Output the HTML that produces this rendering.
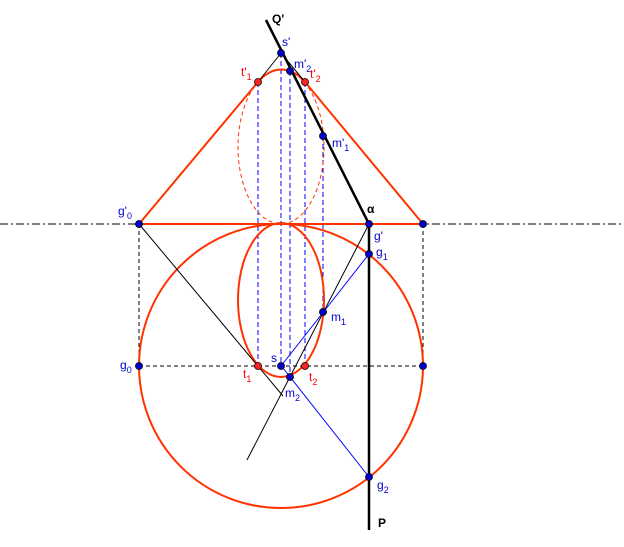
<!DOCTYPE html>
<html><head><style>body{margin:0;background:#fff}svg{display:block}text{font-family:"Liberation Sans",sans-serif;font-size:12px}</style></head><body>
<svg width="624" height="547" viewBox="0 0 624 547" xmlns="http://www.w3.org/2000/svg">
<line x1="0" y1="224" x2="624" y2="224" stroke="#000" stroke-width="1" stroke-dasharray="8,3,2,3"/>
<g stroke="#000" stroke-width="1" stroke-dasharray="4,3" fill="none">
<line x1="139" y1="224" x2="139" y2="366"/><line x1="423" y1="224" x2="423" y2="366"/>
<line x1="139" y1="366" x2="423" y2="366"/>
</g>
<g stroke="#0000ff" stroke-width="1" stroke-dasharray="5,3" fill="none">
<line x1="258" y1="82" x2="258" y2="366"/><line x1="281" y1="53" x2="281" y2="366"/>
<line x1="290" y1="71" x2="290" y2="377"/><line x1="305" y1="82" x2="305" y2="366"/>
<line x1="323" y1="136" x2="323" y2="312"/>
</g>
<ellipse cx="281" cy="147" rx="43" ry="77" fill="none" stroke="#ff3300" stroke-width="1" stroke-dasharray="4,3"/>
<circle cx="281" cy="366" r="142" fill="none" stroke="#ff3300" stroke-width="2"/>
<ellipse cx="281" cy="300" rx="43" ry="77" fill="none" stroke="#ff3300" stroke-width="2"/>
<path d="M139 224 L258 82 A43 77 0 0 1 305 82 L423 224 Z" fill="none" stroke="#ff3300" stroke-width="2"/>
<g stroke="#000" stroke-width="1">
<line x1="281" y1="53" x2="258" y2="82"/><line x1="281" y1="53" x2="305" y2="82"/>
<line x1="139" y1="224" x2="283" y2="396"/>
<line x1="369" y1="224" x2="247" y2="460"/>
</g>
<g stroke="#0000ff" stroke-width="1">
<line x1="281" y1="366" x2="369" y2="254"/>
<line x1="283" y1="368" x2="369" y2="477"/>
</g>
<path d="M266 20 L369 224 L369 530" fill="none" stroke="#000" stroke-width="2.5"/>
<g fill="#0000cc" stroke="#000" stroke-width="0.8">
<circle cx="281" cy="53" r="3.5"/><circle cx="290" cy="71" r="3.5"/><circle cx="323" cy="136" r="3.5"/>
<circle cx="139" cy="224" r="3.5"/><circle cx="369" cy="224" r="3.5"/><circle cx="423" cy="224" r="3.5"/>
<circle cx="369" cy="254" r="3.5"/><circle cx="323" cy="312" r="3.5"/><circle cx="139" cy="366" r="3.5"/>
<circle cx="423" cy="366" r="3.5"/><circle cx="281" cy="366" r="3.5"/><circle cx="290" cy="377" r="3.5"/>
<circle cx="369" cy="477" r="3.5"/>
</g>
<g fill="#ff2222" stroke="#000" stroke-width="0.8">
<circle cx="258" cy="82" r="3.5"/><circle cx="305" cy="82" r="3.5"/><circle cx="258" cy="366" r="3.5"/><circle cx="305" cy="366" r="3.5"/>
</g>
<g font-weight="bold" fill="#000"><text x="272" y="23">Q'</text><text x="367" y="213">α</text><text x="378" y="527">P</text></g>
<g fill="#0000cc">
<text x="282" y="46">s'</text><text x="294" y="68">m'<tspan font-size="9" dy="4">2</tspan></text>
<text x="332" y="147">m'<tspan font-size="9" dy="4">1</tspan></text>
<text x="118" y="215">g'<tspan font-size="9" dy="4">0</tspan></text>
<text x="374" y="240">g'</text><text x="376" y="256">g<tspan font-size="9" dy="4">1</tspan></text>
<text x="331" y="321">m<tspan font-size="9" dy="4">1</tspan></text>
<text x="120" y="369">g<tspan font-size="9" dy="4">0</tspan></text>
<text x="271" y="362">s</text><text x="285" y="397">m<tspan font-size="9" dy="4">2</tspan></text>
<text x="377" y="489">g<tspan font-size="9" dy="4">2</tspan></text>
</g>
<g fill="#ff0000">
<text x="241" y="76">t'<tspan font-size="9" dy="4">1</tspan></text>
<text x="310" y="78">t'<tspan font-size="9" dy="4">2</tspan></text>
<text x="243" y="378">t<tspan font-size="9" dy="4">1</tspan></text>
<text x="309" y="381">t<tspan font-size="9" dy="4">2</tspan></text>
</g>
</svg>
</body></html>
